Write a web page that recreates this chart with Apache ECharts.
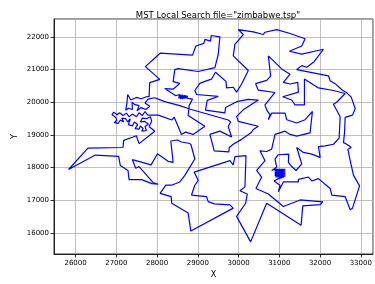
<!DOCTYPE html>
<html>
<head>
<meta charset="utf-8">
<script src="https://cdn.jsdelivr.net/npm/echarts@6/dist/echarts.min.js"></script>
<style>
html, body { margin: 0; padding: 0; background: #fff; }
#chart { width: 375px; height: 284px; }
</style>
</head>
<body>
<div id="chart"></div>
<script>
// tour, in visiting order, [x, y]
// west side, dense knot of cities
const westKnot = [
    [28361, 19452], [28033, 19602], [27771, 19602], [27705, 19713], [27640, 19592],
    [27558, 19673], [27492, 19552], [27394, 19633], [27312, 19552], [27246, 19663],
    [27164, 19592], [27082, 19673], [27016, 19612], [26934, 19693], [26893, 19612],
    [26967, 19552], [26918, 19492], [27016, 19452], [26951, 19372], [27049, 19352],
    [27098, 19452], [27180, 19392], [27131, 19512], [27230, 19492], [27279, 19392],
    [27344, 19492], [27295, 19312], [27394, 19271], [27443, 19392], [27525, 19312],
    [27459, 19191], [27558, 19171], [27590, 19271], [27656, 19191], [27623, 19111],
    [27738, 19131], [27705, 19251], [27787, 19332], [27689, 19412], [27590, 19392],
    [27640, 19512], [27738, 19492], [27836, 19552], [27869, 19412], [27804, 19251],
    [27943, 19111]
]
// arms to the far west and the south
const westArms = [
    [27558, 18730], [27492, 18971], [27410, 18931], [27180, 18830], [27164, 18610],
    [26303, 18589], [25827, 17938], [26483, 18379], [27057, 18339], [27098, 18058],
    [27287, 17907], [27312, 17627], [27623, 17627], [27869, 17506], [28033, 17486],
    [27910, 17526], [27558, 18028], [27476, 17978], [27394, 18238], [27853, 18078],
    [28009, 18419], [28271, 18188], [28394, 18158], [28337, 18810], [28501, 18840],
    [28599, 18780], [28779, 18740], [28829, 18710], [28927, 18258], [28804, 18008],
    [28681, 17757], [28558, 17556], [28353, 17456], [28214, 17456], [28074, 17205],
    [28345, 17105], [28361, 16904], [28763, 16603], [28829, 16052], [29870, 16754],
    [29788, 16854], [29403, 16884], [29255, 16954], [29214, 17105], [28845, 17155],
    [28927, 17456], [29009, 17606], [28911, 17857], [29788, 18208], [29870, 18078]
]
// south-east and centre
const southEast = [
    [29911, 18329], [30182, 18359], [30157, 17406], [30034, 17286], [30214, 17185],
    [30173, 16904], [29952, 16503], [30296, 15721], [30690, 16904], [31535, 16232],
    [31576, 16824], [32002, 16864], [32068, 16945], [31510, 17005], [31100, 16804],
    [30731, 17185], [30428, 17356], [30567, 17707], [30444, 17907], [30649, 18208],
    [30526, 18509], [30690, 18489], [30813, 18559], [30895, 19011], [31141, 19111],
    [31264, 19011], [31428, 18961], [31756, 19061], [31813, 19713], [31633, 19462],
    [31428, 19362], [31182, 19462], [31141, 19663], [30813, 19663], [30731, 19462],
    [30772, 19612], [30690, 19763], [30649, 19913], [30895, 20295], [30485, 20365],
    [30419, 20565], [30690, 20666], [30788, 20796], [30731, 21418], [31059, 21017],
    [31264, 20856], [31100, 20606], [31264, 20555], [31453, 20606], [31469, 20305],
    [31084, 20164], [31305, 20064], [31387, 19913], [31617, 19913], [31617, 20706],
    [31961, 20435], [32330, 20355], [32617, 20264], [32412, 20004], [32330, 19933],
    [32494, 19552], [32469, 18900], [32330, 18710], [32125, 18660], [31961, 18640],
    [32002, 18309], [31797, 18409], [31592, 18459], [31428, 18610], [31551, 18108],
    [31412, 17907], [31305, 18028], [31223, 18158], [31231, 18409], [30977, 18389],
    [30895, 18258], [30936, 18008], [30813, 17907]
]
// second knot, east of 31000
const eastKnot = [
    [30887, 17948], [31149, 17938], [30887, 17907], [31149, 17897], [30887, 17867],
    [31149, 17857], [30887, 17827], [31149, 17817], [30887, 17787], [31149, 17777],
    [30887, 17747], [31149, 17737], [30903, 17707], [31116, 17707]
]
// east edge, north and back through the middle
const eastNorth = [
    [30977, 17657], [30870, 17586], [31018, 17456], [30977, 17255], [31100, 17556],
    [31469, 17556], [31469, 17637], [31715, 17707], [31797, 17586], [31961, 17657],
    [32248, 17356], [32289, 17155], [32617, 17105], [32740, 16704], [32797, 16754],
    [32970, 17436], [32822, 17757], [32740, 18208], [32683, 18559], [32765, 18610],
    [32658, 18710], [32576, 18760], [32601, 19061], [32617, 19532], [32797, 19602],
    [32863, 19803], [32765, 20154], [32658, 20284], [32551, 20365], [32371, 20565],
    [32248, 20656], [32207, 20806], [31428, 20997], [31551, 21117], [31674, 21067],
    [31854, 21237], [32084, 21619], [31551, 21468], [31248, 21558], [31264, 21619],
    [31551, 21719], [31633, 21940], [31264, 22100], [30936, 22220], [30649, 22140],
    [30608, 22070], [30362, 22150], [29993, 22220], [30116, 22070], [29911, 21769],
    [29870, 21418], [30239, 20967], [30075, 20555], [29952, 20305], [29870, 20455],
    [29706, 20435], [29690, 20636], [29435, 20916], [29337, 20706], [29173, 20636],
    [29050, 20575], [28927, 20355], [28968, 20234], [29501, 20174], [29230, 20054],
    [29189, 19753], [29665, 19673], [29681, 19833], [29952, 20014], [30239, 20084],
    [30485, 20064], [30116, 19763], [29952, 19562], [29993, 19412], [30485, 19261],
    [30362, 19161], [30305, 19061], [30075, 18860], [29870, 18710], [29772, 18610],
    [29763, 18479], [29403, 18509], [29296, 19011], [29542, 19111], [29829, 18931],
    [29747, 19251], [29804, 19392], [29747, 19452], [28820, 19783], [28558, 19893],
    [28189, 20014], [27943, 20134]
]
// top of the west knot
const westTop = [
    [27779, 20094], [27705, 19974], [27820, 19873], [27722, 19773], [27607, 19833],
    [27508, 19733], [27558, 19893], [27443, 19933], [27385, 19994], [27394, 19773],
    [27295, 19813], [27230, 19753], [27262, 19994], [27279, 20234], [27353, 20064],
    [27492, 20144], [27615, 20104], [27738, 20164], [27804, 20174]
]
// north-west loop
const northWest = [
    [27820, 20595], [28066, 20696], [27713, 21087], [28074, 21498], [28870, 21438],
    [28952, 21719], [29148, 21799], [29173, 21919], [29312, 21869], [29329, 22040],
    [29542, 22000], [29501, 21458], [29419, 21057], [29009, 20937], [28517, 21027],
    [28435, 20997], [28394, 20626], [28558, 20575], [28394, 20395], [28189, 20415]
]
// small knot near 28600 / 20150
const northKnot = [
    [28460, 20194], [28509, 20244], [28484, 20134], [28550, 20234], [28533, 20114],
    [28591, 20234], [28574, 20094], [28632, 20224], [28615, 20094], [28673, 20214],
    [28656, 20104], [28714, 20204], [28697, 20114], [28747, 20194], [28730, 20124],
    [28763, 20174]
]
const backHome = [
    [28870, 20094], [28788, 19893], [28763, 19592], [29173, 19261], [28886, 19011],
    [28697, 19081], [28599, 19011], [28419, 19542]
]

const xRange = [25470, 33300]
const yRange = [15350, 22545]

// join the pieces and close the tour
const tour = [].concat(westKnot, westArms, southEast, eastKnot, eastNorth, westTop, northWest, northKnot, backHome)
tour.push(tour[0])

const font = 'DejaVu Sans'
const chart = echarts.init(document.getElementById('chart'), null, { renderer: 'canvas' })

const axisCommon = {
    type: 'value',
    minInterval: 1000,
    maxInterval: 1000,
    nameLocation: 'middle',
    nameMoveOverlap: false,
    nameTextStyle: { fontFamily: font, fontSize: 8, color: '#000' },
    axisLine: { show: true, onZero: false, lineStyle: { color: '#000', width: 0.8 } },
    axisTick: { show: true, inside: false, length: 3.5, lineStyle: { color: '#000', width: 0.8 } },
    axisLabel: {
        fontFamily: font, fontSize: 7, color: '#000',
        showMinLabel: false, showMaxLabel: false,
        formatter: v => String(v)
    },
    splitLine: { show: true, lineStyle: { color: '#b0b0b0', width: 0.8 } }
}

const options = {
    animation: false,
    title: {
        text: 'MST Local Search file="zimbabwe.tsp"',
        left: 213,
        top: 6,
        textAlign: 'center',
        textStyle: { fontFamily: font, fontSize: 8.5, fontWeight: 'normal', color: '#000' }
    },
    grid: { left: 54, right: 2, top: 19, bottom: 27, containLabel: false, show: true, borderColor: '#000', borderWidth: 0.8 },
    xAxis: Object.assign({}, axisCommon, {
        min: xRange[0],
        max: xRange[1],
        name: 'X',
        nameGap: 17,
        axisLabel: Object.assign({}, axisCommon.axisLabel, { margin: 6 })
    }),
    yAxis: Object.assign({}, axisCommon, {
        min: yRange[0],
        max: yRange[1],
        name: 'Y',
        nameGap: 35,
        nameRotate: 90,
        axisLabel: Object.assign({}, axisCommon.axisLabel, { margin: 5 })
    }),
    series: [{
        type: 'line',
        data: tour,
        showSymbol: false,
        symbol: 'none',
        lineStyle: { color: '#0000ff', width: 1.2 },
        z: 3
    }]
}

chart.setOption(options)
</script>
</body>
</html>
